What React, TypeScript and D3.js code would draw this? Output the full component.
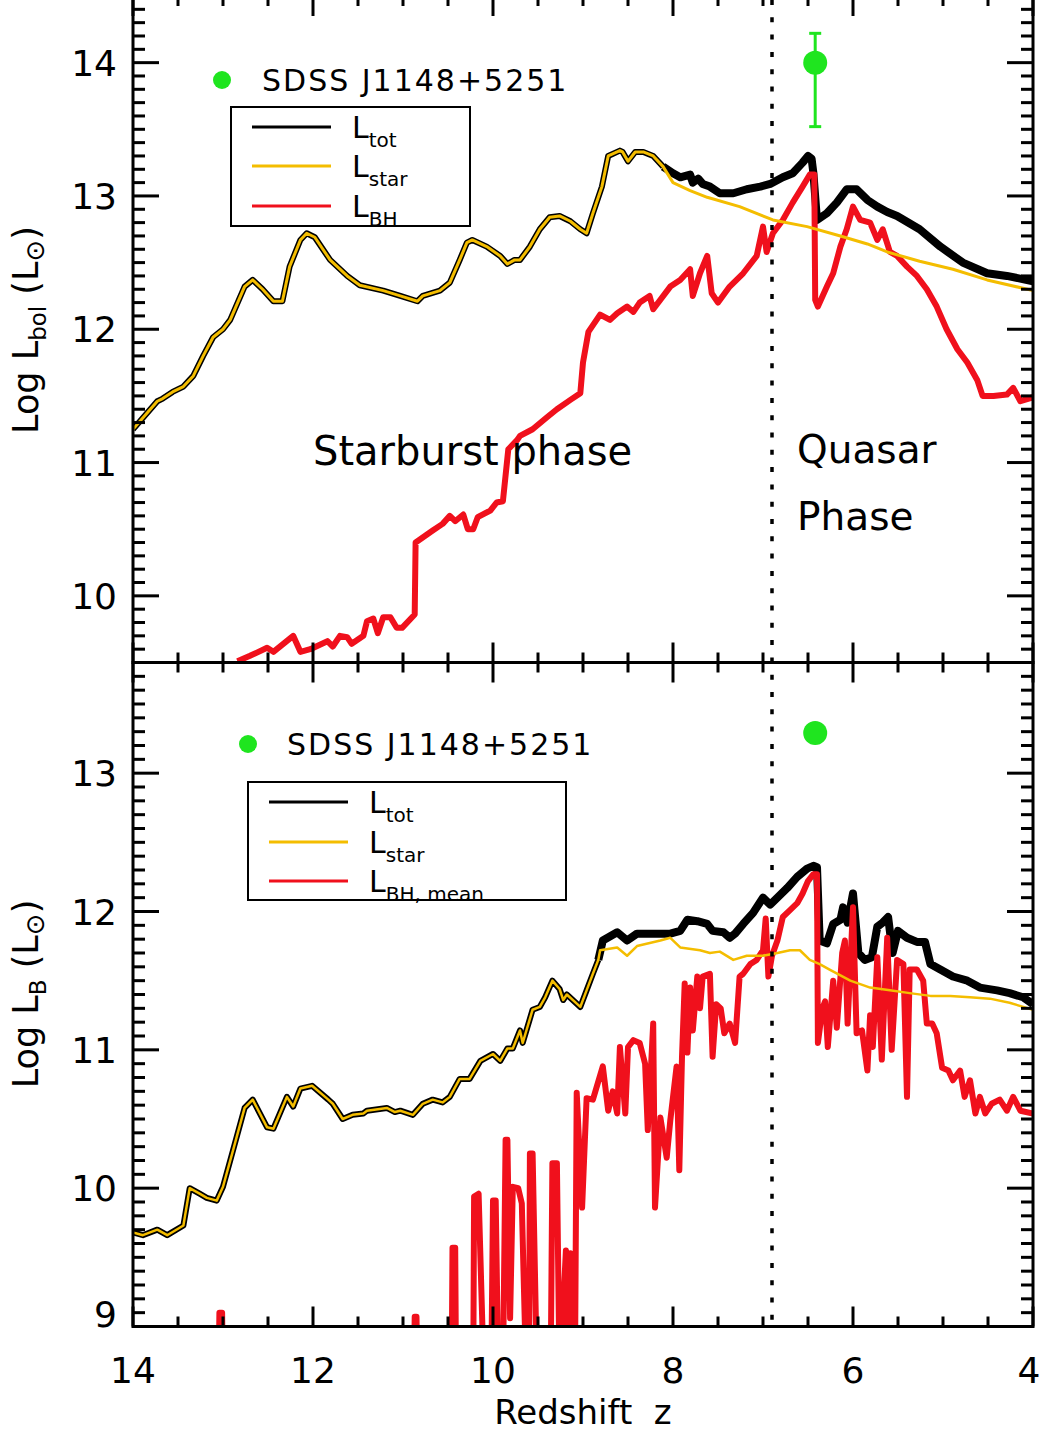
import React from "react";
import * as d3 from "d3";

type P = [number, number];

// ---------- axis ticks ----------
const xLabelTicks = [14, 12, 10, 8, 6, 4];
const topYLabelTicks = [10, 11, 12, 13, 14];
const botYLabelTicks = [9, 10, 11, 12, 13];

// ---------- observation: SDSS J1148+5251 ----------
const obsZ = 6.42;
const obsTopLbol = 14.0;
const obsTopErr: [number, number] = [13.52, 14.22];
const obsBotLB = 13.29;
const transitionZ = 6.9;

// ---------- top panel: Log L_bol ----------
const topShared: P[] = [
  [14.0, 11.25], [13.73, 11.46], [13.67, 11.48], [13.56, 11.53], [13.44, 11.57], [13.33, 11.65],
  [13.22, 11.8], [13.11, 11.94], [13.0, 12.0], [12.92, 12.07], [12.76, 12.32], [12.67, 12.37],
  [12.56, 12.3], [12.44, 12.21], [12.34, 12.21], [12.26, 12.47], [12.14, 12.67], [12.07, 12.72],
  [11.98, 12.69], [11.81, 12.52], [11.62, 12.4], [11.48, 12.33], [11.22, 12.29], [11.03, 12.25],
  [10.84, 12.21], [10.78, 12.25], [10.59, 12.29], [10.48, 12.35], [10.37, 12.52], [10.29, 12.65],
  [10.23, 12.67], [10.07, 12.62], [9.92, 12.55], [9.84, 12.49], [9.76, 12.52], [9.7, 12.52],
  [9.59, 12.62], [9.48, 12.75], [9.37, 12.84], [9.26, 12.85], [9.14, 12.81], [9.03, 12.75],
  [8.96, 12.72], [8.89, 12.87], [8.79, 13.07], [8.72, 13.3], [8.59, 13.34], [8.56, 13.33],
  [8.5, 13.26], [8.42, 13.33], [8.33, 13.33], [8.22, 13.3], [8.11, 13.22],
];
const topStarLate: P[] = [
  [8.0, 13.1], [7.81, 13.04], [7.62, 12.99], [7.26, 12.92], [6.89, 12.82], [6.51, 12.77],
  [6.14, 12.7], [5.84, 12.64], [5.62, 12.58], [5.26, 12.51], [4.89, 12.45], [4.51, 12.37], [4.0, 12.29],
];
const topTotLate: P[] = [
  [8.11, 13.22], [8.0, 13.17], [7.92, 13.14], [7.81, 13.16], [7.78, 13.1], [7.72, 13.13], [7.67, 13.09],
  [7.59, 13.07], [7.48, 13.02], [7.33, 13.02], [7.18, 13.05], [7.03, 13.07], [6.92, 13.09],
  [6.78, 13.14], [6.67, 13.17], [6.56, 13.25], [6.5, 13.3], [6.46, 13.28], [6.44, 13.17],
  [6.4, 12.82], [6.29, 12.87], [6.18, 12.95], [6.07, 13.05], [5.96, 13.05], [5.84, 12.97],
  [5.73, 12.92], [5.62, 12.88], [5.51, 12.85], [5.26, 12.75], [5.03, 12.62], [4.78, 12.5],
  [4.51, 12.42], [4.29, 12.4], [4.0, 12.36],
];
const topBH: P[] = [
  [12.84, 9.51], [12.7, 9.55], [12.51, 9.61], [12.44, 9.58], [12.22, 9.7], [12.14, 9.58],
  [12.03, 9.6], [11.84, 9.66], [11.78, 9.62], [11.7, 9.7], [11.62, 9.69], [11.57, 9.64],
  [11.44, 9.7], [11.4, 9.81], [11.33, 9.83], [11.28, 9.72], [11.22, 9.84], [11.14, 9.84],
  [11.07, 9.76], [11.01, 9.76], [10.87, 9.86], [10.86, 10.4], [10.67, 10.49], [10.56, 10.54],
  [10.48, 10.6], [10.42, 10.56], [10.33, 10.61], [10.28, 10.5], [10.22, 10.5], [10.17, 10.59],
  [10.03, 10.64], [9.96, 10.7], [9.89, 10.71], [9.83, 11.1], [9.73, 11.17], [9.7, 11.2],
  [9.56, 11.25], [9.4, 11.34], [9.29, 11.4], [9.14, 11.47], [9.03, 11.52], [9.0, 11.75],
  [8.94, 11.98], [8.81, 12.11], [8.7, 12.07], [8.62, 12.12], [8.51, 12.17], [8.44, 12.13],
  [8.37, 12.2], [8.26, 12.25], [8.22, 12.15], [8.03, 12.32], [7.92, 12.37], [7.81, 12.45],
  [7.78, 12.25], [7.7, 12.42], [7.62, 12.55], [7.57, 12.27], [7.5, 12.2], [7.37, 12.32],
  [7.22, 12.42], [7.07, 12.55], [7.0, 12.77], [6.96, 12.58], [6.89, 12.72], [6.78, 12.82],
  [6.67, 12.95], [6.56, 13.07], [6.48, 13.16], [6.43, 13.16], [6.42, 12.22], [6.39, 12.17],
  [6.29, 12.32], [6.22, 12.42], [6.14, 12.62], [6.07, 12.75], [6.0, 12.92], [5.92, 12.82],
  [5.81, 12.8], [5.73, 12.67], [5.67, 12.75], [5.59, 12.58], [5.51, 12.55], [5.4, 12.47],
  [5.29, 12.4], [5.18, 12.3], [5.07, 12.17], [4.96, 12.0], [4.84, 11.85], [4.73, 11.75],
  [4.62, 11.62], [4.56, 11.5], [4.44, 11.5], [4.29, 11.51], [4.22, 11.56], [4.14, 11.46], [4.0, 11.49],
];

// ---------- bottom panel: Log L_B ----------
const botShared: P[] = [
  [14.0, 9.68], [13.89, 9.66], [13.73, 9.7], [13.62, 9.66], [13.44, 9.73], [13.37, 10.0],
  [13.26, 9.96], [13.18, 9.93], [13.07, 9.91], [13.0, 10.01], [12.89, 10.27], [12.76, 10.58],
  [12.67, 10.64], [12.51, 10.44], [12.44, 10.43], [12.29, 10.66], [12.22, 10.59], [12.14, 10.72],
  [12.01, 10.74], [11.83, 10.64], [11.78, 10.61], [11.67, 10.5], [11.56, 10.53], [11.44, 10.54],
  [11.4, 10.56], [11.18, 10.58], [11.09, 10.55], [11.03, 10.56], [10.89, 10.53], [10.78, 10.61],
  [10.67, 10.64], [10.56, 10.62], [10.48, 10.66], [10.37, 10.79], [10.26, 10.79], [10.14, 10.92],
  [10.0, 10.97], [9.92, 10.92], [9.84, 11.01], [9.78, 11.01], [9.7, 11.14], [9.67, 11.05],
  [9.56, 11.29], [9.48, 11.31], [9.42, 11.38], [9.34, 11.5], [9.26, 11.44], [9.22, 11.36],
  [9.18, 11.4], [9.03, 11.31], [8.96, 11.43], [8.89, 11.55], [8.83, 11.65],
];
const botStarLate: P[] = [
  [8.81, 11.72], [8.62, 11.74], [8.51, 11.68], [8.4, 11.75], [8.14, 11.79], [8.03, 11.81],
  [7.92, 11.74], [7.7, 11.72], [7.59, 11.7], [7.48, 11.71], [7.33, 11.65], [7.18, 11.68],
  [7.0, 11.68], [6.84, 11.7], [6.7, 11.72], [6.59, 11.72], [6.48, 11.65], [6.37, 11.62],
  [6.26, 11.58], [6.03, 11.5], [5.81, 11.45], [5.59, 11.43], [5.37, 11.41], [5.14, 11.39],
  [4.92, 11.39], [4.7, 11.38], [4.48, 11.37], [4.26, 11.34], [4.0, 11.29],
];
const botTotLate: P[] = [
  [8.83, 11.65], [8.78, 11.79], [8.62, 11.85], [8.51, 11.79], [8.4, 11.84], [8.22, 11.84], [8.03, 11.84],
  [7.92, 11.86], [7.84, 11.94], [7.73, 11.93], [7.62, 11.91], [7.56, 11.86], [7.44, 11.85],
  [7.37, 11.81], [7.31, 11.84], [7.22, 11.91], [7.11, 11.99], [7.0, 12.1], [6.92, 12.05],
  [6.84, 12.1], [6.73, 12.17], [6.62, 12.25], [6.51, 12.31], [6.44, 12.33], [6.4, 12.32],
  [6.37, 11.79], [6.29, 11.77], [6.22, 11.91], [6.14, 11.94], [6.11, 12.03], [6.06, 11.92],
  [6.0, 12.13], [5.94, 11.7], [5.87, 11.65], [5.79, 11.67], [5.73, 11.89], [5.67, 11.92],
  [5.61, 11.96], [5.56, 11.7], [5.5, 11.86], [5.4, 11.81], [5.29, 11.78], [5.2, 11.78],
  [5.14, 11.62], [5.03, 11.58], [4.89, 11.53], [4.73, 11.5], [4.59, 11.45], [4.4, 11.43],
  [4.26, 11.41], [4.11, 11.38], [4.0, 11.33],
];
const botBH: P[] = [
  [14.0, 8.6], [13.05, 8.6], [13.04, 9.1], [13.01, 9.1], [13.0, 8.6], [10.88, 8.6], [10.87, 9.07],
  [10.85, 9.07], [10.84, 8.6], [10.46, 8.6], [10.45, 9.57], [10.42, 9.57], [10.41, 8.6],
  [10.22, 8.6], [10.21, 9.94], [10.16, 9.96], [10.1, 8.6], [10.02, 8.6], [10.0, 9.91],
  [9.97, 9.91], [9.94, 8.6], [9.89, 8.6], [9.86, 10.35], [9.84, 10.35], [9.81, 9.06],
  [9.78, 10.01], [9.72, 10.0], [9.68, 9.89], [9.63, 8.6], [9.6, 8.6], [9.59, 10.25],
  [9.56, 10.25], [9.51, 8.6], [9.36, 8.6], [9.34, 10.18], [9.29, 10.18], [9.26, 8.6],
  [9.19, 9.55], [9.17, 8.9], [9.14, 9.53], [9.09, 8.6], [9.07, 10.69], [9.01, 9.86],
  [8.96, 10.65], [8.89, 10.64], [8.78, 10.88], [8.72, 10.56], [8.67, 10.7], [8.62, 10.54],
  [8.59, 11.02], [8.53, 10.54], [8.5, 11.02], [8.44, 11.07], [8.37, 11.05], [8.31, 10.9],
  [8.28, 10.42], [8.22, 11.19], [8.2, 9.86], [8.14, 10.51], [8.07, 10.22], [8.03, 10.49],
  [7.96, 10.88], [7.93, 10.13], [7.9, 10.95], [7.87, 11.48], [7.84, 10.98], [7.81, 11.45],
  [7.78, 11.14], [7.73, 11.53], [7.7, 11.3], [7.67, 11.53], [7.59, 11.55], [7.56, 10.95],
  [7.52, 11.33], [7.47, 11.3], [7.43, 11.12], [7.37, 11.19], [7.31, 11.05], [7.26, 11.53],
  [7.22, 11.55], [7.14, 11.62], [7.07, 11.65], [7.0, 11.72], [6.97, 11.95], [6.94, 11.53],
  [6.9, 11.68], [6.84, 11.79], [6.78, 11.96], [6.7, 12.01], [6.62, 12.06], [6.56, 12.13],
  [6.5, 12.22], [6.44, 12.27], [6.4, 12.27], [6.39, 11.05], [6.34, 11.3], [6.31, 11.35],
  [6.28, 11.02], [6.22, 11.5], [6.18, 11.16], [6.12, 11.7], [6.09, 11.79], [6.06, 11.19],
  [6.0, 12.03], [5.96, 11.12], [5.9, 11.14], [5.84, 10.85], [5.81, 11.25], [5.78, 11.02],
  [5.73, 11.67], [5.68, 10.93], [5.62, 11.81], [5.57, 11.0], [5.51, 11.65], [5.44, 11.62],
  [5.4, 10.66], [5.37, 11.58], [5.29, 11.58], [5.22, 11.5], [5.18, 11.19], [5.12, 11.19],
  [5.07, 11.12], [5.01, 10.87], [4.94, 10.85], [4.89, 10.78], [4.81, 10.85], [4.76, 10.66],
  [4.7, 10.78], [4.64, 10.54], [4.59, 10.66], [4.53, 10.54], [4.46, 10.61], [4.37, 10.64],
  [4.29, 10.56], [4.22, 10.66], [4.14, 10.56], [4.0, 10.54],
];

const topStar = [...topShared, ...topStarLate];
const botStar = [...botShared, ...botStarLate];

// ---------- styling ----------
const FONT = "DejaVu Sans";
const BLACK = "#000";
const YELLOW = "#f4bd00";
const RED = "#f0101c";
const GREEN = "#1fe51f";

const X0 = 133;
const X1 = 1033;
const MID = 662.5;
const TOPY = -4;
const BOTY = 1326.5;

const x = d3.scaleLinear().domain([14, 4]).range([X0, X1]);
const yTop = d3.scaleLinear().domain([9.5, 14.5]).range([MID, TOPY]);
const yBot = d3.scaleLinear().domain([9, 13.8]).range([BOTY, MID]);

function Axes({ y, lo, hi, y0, y1, labels, labelShift }: any) {
  const els: any[] = [];
  for (let i = Math.round(lo * 10); i <= Math.round(hi * 10); i++) {
    const v = i / 10;
    const yy = y(v);
    const major = i % 10 === 0;
    const len = major ? 26 : 12;
    els.push(<line key={"yl" + i} x1={X0} x2={X0 + len} y1={yy} y2={yy} stroke={BLACK} strokeWidth={3} />);
    els.push(<line key={"yr" + i} x1={X1} x2={X1 - len} y1={yy} y2={yy} stroke={BLACK} strokeWidth={3} />);
  }
  for (let i = 8; i <= 28; i++) {
    const v = i / 2;
    const xx = x(v);
    const major = i % 4 === 0;
    const len = major ? 20 : 10;
    els.push(<line key={"xt" + i} x1={xx} x2={xx} y1={y0} y2={y0 + len} stroke={BLACK} strokeWidth={3} />);
    els.push(<line key={"xb" + i} x1={xx} x2={xx} y1={y1} y2={y1 - len} stroke={BLACK} strokeWidth={3} />);
  }
  labels.forEach((v: number) => {
    els.push(
      <text key={"lab" + v} x={117} y={y(v) + 13 + (labelShift[v] || 0)} textAnchor="end" fontSize={36} fontFamily={FONT}>
        {v}
      </text>
    );
  });
  els.push(<rect key="frame" x={X0} y={y0} width={X1 - X0} height={y1 - y0} fill="none" stroke={BLACK} strokeWidth={3} />);
  return <g>{els}</g>;
}

function Legend({ x0, y0, w, h, rows }: any) {
  return (
    <g>
      <rect x={x0} y={y0} width={w} height={h} fill="white" stroke={BLACK} strokeWidth={2} />
      {rows.map((r: any, i: number) => (
        <g key={i}>
          <line x1={x0 + 21} x2={x0 + 100} y1={r.y} y2={r.y} stroke={r.color} strokeWidth={3} />
          <text x={x0 + 121} y={r.y + 11} fontSize={30} fontFamily={FONT}>
            L
            <tspan fontSize={20} dy={9}>{r.sub}</tspan>
          </text>
        </g>
      ))}
    </g>
  );
}

export default function App() {
  const lineTop = d3.line<P>().x((d) => x(d[0])).y((d) => yTop(d[1]));
  const lineBot = d3.line<P>().x((d) => x(d[0])).y((d) => yBot(d[1]));
  const xt = x(transitionZ);
  const xo = x(obsZ);
  return (
    <div style={{ position: "absolute", left: 0, top: 0 }}>
      <svg width={1041} height={1435} viewBox="0 0 1041 1435" style={{ display: "block", background: "white" }}>
        <defs>
          <clipPath id="clipTop">
            <rect x={X0} y={TOPY} width={X1 - X0} height={MID - TOPY} />
          </clipPath>
          <clipPath id="clipBot">
            <rect x={X0} y={MID} width={X1 - X0} height={BOTY - MID} />
          </clipPath>
        </defs>
        <rect x={0} y={0} width={1041} height={1435} fill="white" />

        {/* top panel data */}
        <g clipPath="url(#clipTop)" fill="none" strokeLinejoin="round">
          <path d={lineTop(topShared) || ""} stroke={BLACK} strokeWidth={6} />
          <path d={lineTop(topTotLate) || ""} stroke={BLACK} strokeWidth={8} />
          <path d={lineTop(topBH) || ""} stroke={RED} strokeWidth={6} />
          <path d={lineTop(topStar) || ""} stroke={YELLOW} strokeWidth={3} />
        </g>
        {/* bottom panel data */}
        <g clipPath="url(#clipBot)" fill="none" strokeLinejoin="round">
          <path d={lineBot(botShared) || ""} stroke={BLACK} strokeWidth={6} />
          <path d={lineBot(botTotLate) || ""} stroke={BLACK} strokeWidth={8} />
          <path d={lineBot(botBH) || ""} stroke={RED} strokeWidth={6} />
          <path d={lineBot(botStar) || ""} stroke={YELLOW} strokeWidth={2.5} />
        </g>

        {/* transition line */}
        <line x1={xt} x2={xt} y1={0} y2={BOTY} stroke={BLACK} strokeWidth={3.5} strokeDasharray="5 12.3" />

        {/* observation */}
        <line x1={xo} x2={xo} y1={yTop(obsTopErr[0])} y2={yTop(obsTopErr[1])} stroke={GREEN} strokeWidth={3} />
        <line x1={xo - 6} x2={xo + 6} y1={yTop(obsTopErr[0])} y2={yTop(obsTopErr[0])} stroke={GREEN} strokeWidth={3} />
        <line x1={xo - 6} x2={xo + 6} y1={yTop(obsTopErr[1])} y2={yTop(obsTopErr[1])} stroke={GREEN} strokeWidth={3} />
        <circle cx={xo} cy={yTop(obsTopLbol)} r={12} fill={GREEN} />
        <circle cx={xo} cy={yBot(obsBotLB)} r={12} fill={GREEN} />

        <Axes y={yTop} lo={9.5} hi={14.5} y0={TOPY} y1={MID} labels={topYLabelTicks} labelShift={{}} />
        <Axes y={yBot} lo={9} hi={13.8} y0={MID} y1={BOTY} labels={botYLabelTicks} labelShift={{ 9: -13 }} />

        {/* x tick labels */}
        {xLabelTicks.map((v) => (
          <text key={v} x={v === 4 ? x(v) - 4 : x(v)} y={1383} textAnchor="middle" fontSize={36} fontFamily={FONT}>
            {v}
          </text>
        ))}
        <text x={(X0 + X1) / 2} y={1424} textAnchor="middle" fontSize={34} fontFamily={FONT}>
          {"Redshift\u00a0\u00a0z"}
        </text>

        {/* y titles */}
        <text transform="translate(38,330) rotate(-90)" textAnchor="middle" fontSize={35} fontFamily={FONT}>
          Log L<tspan fontSize={23} dy={8}>bol</tspan>
          <tspan dy={-8}>{"\u00a0(L"}</tspan>
          <tspan fontSize={26} dy={6}>⊙</tspan>
          <tspan dy={-6}>)</tspan>
        </text>
        <text transform="translate(38,994) rotate(-90)" textAnchor="middle" fontSize={35} fontFamily={FONT}>
          Log L<tspan fontSize={23} dy={8}>B</tspan>
          <tspan dy={-8}>{"\u00a0(L"}</tspan>
          <tspan fontSize={26} dy={6}>⊙</tspan>
          <tspan dy={-6}>)</tspan>
        </text>

        {/* SDSS labels */}
        <circle cx={222} cy={80} r={9} fill={GREEN} />
        <text x={262} y={91} fontSize={30} letterSpacing={2} fontFamily={FONT}>SDSS J1148+5251</text>
        <circle cx={248} cy={744} r={9} fill={GREEN} />
        <text x={287} y={755} fontSize={30} letterSpacing={2} fontFamily={FONT}>SDSS J1148+5251</text>

        {/* legends */}
        <Legend
          x0={231}
          y0={107}
          w={239}
          h={119}
          rows={[
            { y: 127, color: BLACK, sub: "tot" },
            { y: 166, color: YELLOW, sub: "star" },
            { y: 206, color: RED, sub: "BH" },
          ]}
        />
        <Legend
          x0={248}
          y0={782}
          w={318}
          h={118}
          rows={[
            { y: 802, color: BLACK, sub: "tot" },
            { y: 842, color: YELLOW, sub: "star" },
            { y: 881, color: RED, sub: "BH, mean" },
          ]}
        />

        {/* phase annotations */}
        <text x={313} y={465} fontSize={40} fontFamily={FONT}>Starburst phase</text>
        <text x={797} y={463} fontSize={39} fontFamily={FONT}>Quasar</text>
        <text x={797} y={530} fontSize={39} fontFamily={FONT}>Phase</text>
      </svg>
    </div>
  );
}
